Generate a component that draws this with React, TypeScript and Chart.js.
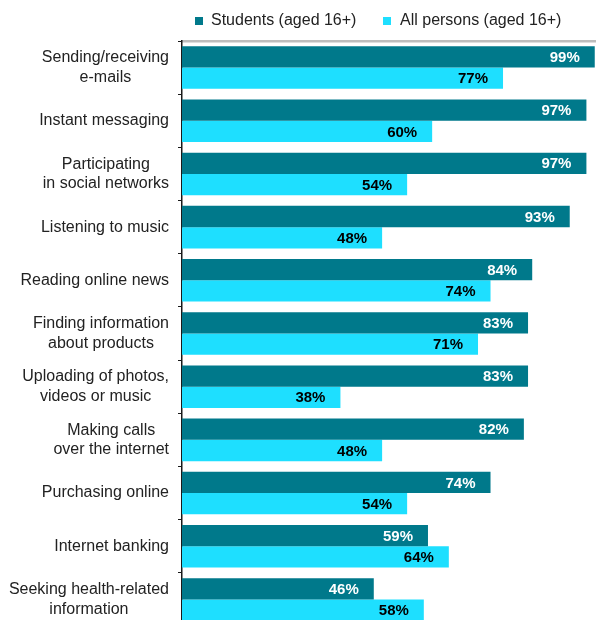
import React, { useEffect, useRef } from "react";
import { Chart, registerables } from "chart.js";

Chart.register(...registerables);

const categories: (string | string[])[] = [
  ["Sending/receiving", "e-mails"],
  "Instant messaging",
  ["Participating", "in social networks"],
  "Listening to music",
  "Reading online news",
  ["Finding information", "about products"],
  ["Uploading of photos,", "videos or music"],
  ["Making calls", "over the internet"],
  "Purchasing online",
  "Internet banking",
  ["Seeking health-related", "information"],
];

const students = [99, 97, 97, 93, 84, 83, 83, 82, 74, 59, 46];
const allPersons = [77, 60, 54, 48, 74, 71, 38, 48, 54, 64, 58];

const seriesNames = ["Students (aged 16+)", "All persons (aged 16+)"];
const seriesColors = ["#00798B", "#1EDFFF"];
const valueColors = ["#ffffff", "#000000"];

const FONT = "'Liberation Sans', Arial, Helvetica, sans-serif";

export default function App() {
  const ref = useRef<HTMLCanvasElement>(null);

  useEffect(() => {
    document.body.style.margin = "0";
    const canvas = ref.current;
    if (!canvas) return;

    const categoryLabelPlugin = {
      id: "categoryLabels",
      afterDraw(chart: any) {
        const ctx = chart.ctx;
        const y = chart.scales.y;
        ctx.save();
        ctx.font = `16px ${FONT}`;
        ctx.fillStyle = "#222222";
        ctx.textAlign = "center";
        ctx.textBaseline = "middle";
        categories.forEach((c, i) => {
          const lines = Array.isArray(c) ? c : [c];
          const widest = Math.max(...lines.map((l) => ctx.measureText(l).width));
          const cx = y.right - 13 - widest / 2;
          const py = y.getPixelForTick(i);
          lines.forEach((l, j) => {
            ctx.fillText(l, cx, py + (j - (lines.length - 1) / 2) * 19.5);
          });
        });
        ctx.restore();
      },
    };

    const valueLabelPlugin = {
      id: "valueLabels",
      afterDatasetsDraw(chart: any) {
        const ctx = chart.ctx;
        ctx.save();
        ctx.font = `bold 15px ${FONT}`;
        ctx.textAlign = "right";
        ctx.textBaseline = "middle";
        chart.data.datasets.forEach((ds: any, di: number) => {
          const meta = chart.getDatasetMeta(di);
          ctx.fillStyle = valueColors[di];
          meta.data.forEach((el: any, i: number) => {
            ctx.fillText(`${ds.data[i]}%`, el.x - 15, el.y + 1);
          });
        });
        ctx.restore();
      },
    };

    const chart = new Chart(canvas, {
      type: "bar",
      data: {
        labels: categories.map((c) => (Array.isArray(c) ? c.join(" ") : c)),
        datasets: [
          {
            label: seriesNames[0],
            data: students,
            backgroundColor: seriesColors[0],
            categoryPercentage: 0.8,
            barPercentage: 1.0,
          },
          {
            label: seriesNames[1],
            data: allPersons,
            backgroundColor: seriesColors[1],
            categoryPercentage: 0.8,
            barPercentage: 1.0,
          },
        ],
      },
      options: {
        indexAxis: "y",
        responsive: false,
        animation: false,
        layout: { padding: { top: 41, left: 0, right: 0, bottom: 0 } },
        plugins: {
          legend: { display: false },
          tooltip: { enabled: false },
        },
        scales: {
          x: {
            position: "top",
            min: 0,
            max: 99.3,
            grid: { display: false, drawTicks: false },
            ticks: { display: false },
            border: { display: true, color: "#bdbdbd", width: 2.5 },
          },
          y: {
            position: "left",
            offset: true,
            ticks: { display: false },
            grid: {
              offset: true,
              drawOnChartArea: false,
              drawTicks: true,
              tickLength: 4,
              color: "#1a1a1a",
              lineWidth: 1,
            },
            border: { display: true, color: "#1a1a1a", width: 1.5 },
            afterFit(scale: any) {
              scale.width = 182;
            },
          },
        },
      },
      plugins: [categoryLabelPlugin, valueLabelPlugin],
    } as any);

    return () => chart.destroy();
  }, []);

  const legendText: React.CSSProperties = {
    position: "absolute",
    top: 10,
    font: `16px ${FONT}`,
    color: "#222222",
    lineHeight: "19px",
    whiteSpace: "nowrap",
  };
  const box: React.CSSProperties = {
    position: "absolute",
    top: 17,
    width: 8,
    height: 8,
  };

  return (
    <div style={{ position: "relative", width: 596, height: 620, overflow: "hidden" }}>
      <canvas ref={ref} width={596} height={626} style={{ display: "block" }} />
      <span style={{ ...box, left: 195, background: seriesColors[0] }} />
      <span style={{ ...legendText, left: 211 }}>{seriesNames[0]}</span>
      <span style={{ ...box, left: 383, background: seriesColors[1] }} />
      <span style={{ ...legendText, left: 400 }}>{seriesNames[1]}</span>
    </div>
  );
}
